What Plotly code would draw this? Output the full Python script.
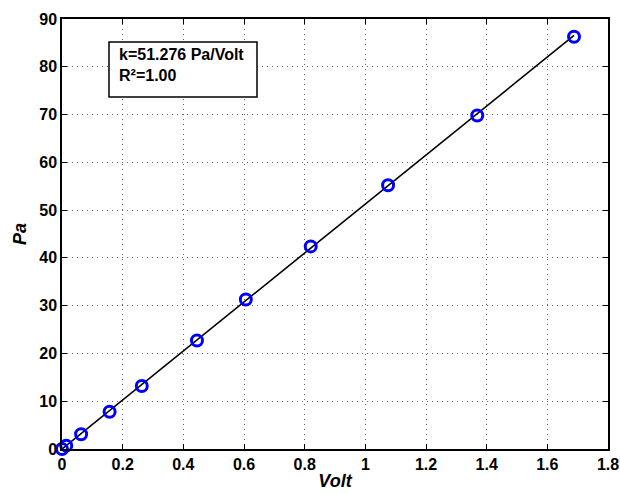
import plotly.graph_objects as go

# Data
volt = [0.0, 0.014, 0.063, 0.157, 0.263, 0.445, 0.606, 0.820, 1.075, 1.369, 1.688]
pa = [0.0, 0.7, 3.1, 7.8, 13.2, 22.7, 31.3, 42.4, 55.2, 69.8, 86.3]
fit_x = [0.0, 1.688]
fit_y = [0.0, 86.55]
k_label = "k=51.276 Pa/Volt"
r2_label = "R²=1.00"
x_ticks = [0, 0.2, 0.4, 0.6, 0.8, 1, 1.2, 1.4, 1.6, 1.8]
x_tick_text = ["0", "0.2", "0.4", "0.6", "0.8", "1", "1.2", "1.4", "1.6", "1.8"]
y_ticks = [0, 10, 20, 30, 40, 50, 60, 70, 80, 90]

FONT = "Liberation Sans, Arial, sans-serif"

fig = go.Figure()
fig.add_trace(go.Scatter(
    x=fit_x, y=fit_y, mode="lines",
    line=dict(color="black", width=1.6),
    showlegend=False, hoverinfo="skip", cliponaxis=False,
))
fig.add_trace(go.Scatter(
    x=volt, y=pa, mode="markers",
    marker=dict(symbol="circle-open", size=11, color="#0000ff",
                line=dict(width=3, color="#0000ff")),
    showlegend=False, cliponaxis=False,
))

axis_common = dict(
    showline=True, linecolor="black", linewidth=1.5, mirror="ticks",
    ticks="inside", ticklen=5, tickwidth=1, tickcolor="black",
    showgrid=True, gridcolor="#666666", gridwidth=1, griddash="1px,4px",
    zeroline=False, automargin=False,
    tickfont=dict(family=FONT, size=16, color="black", weight="bold"),
)

fig.update_layout(
    width=620, height=493,
    margin=dict(l=62, r=12, t=19, b=44),
    paper_bgcolor="white", plot_bgcolor="white",
    xaxis=dict(range=[0, 1.8], tickvals=x_ticks, ticktext=x_tick_text,
               title=dict(text="Volt", standoff=2,
                          font=dict(family=FONT, size=18, color="black",
                                    weight="bold", style="italic")),
               **axis_common),
    yaxis=dict(range=[0, 90], tickvals=y_ticks,
               title=dict(text="Pa", standoff=8,
                          font=dict(family=FONT, size=18, color="black",
                                    weight="bold", style="italic")),
               **axis_common),
    shapes=[dict(type="rect", xref="paper", yref="paper",
                 x0=(109 - 62) / 546, x1=(257 - 62) / 546,
                 y0=(449 - 97) / 430, y1=(449 - 42) / 430,
                 line=dict(color="black", width=1.5), fillcolor="white",
                 layer="above")],
    annotations=[
        dict(xref="paper", yref="paper", x=(117 - 62) / 546, y=(449 - 55) / 430,
             xanchor="left", yanchor="middle", showarrow=False,
             text=k_label,
             font=dict(family=FONT, size=16, color="black", weight="bold")),
        dict(xref="paper", yref="paper", x=(117 - 62) / 546, y=(449 - 75) / 430,
             xanchor="left", yanchor="middle", showarrow=False,
             text=r2_label,
             font=dict(family=FONT, size=16, color="black", weight="bold")),
    ],
)

fig.write_html(
    "out.html",
    config={"displayModeBar": False},
    post_script="document.body.style.margin='0';document.body.style.overflow='hidden';",
)
